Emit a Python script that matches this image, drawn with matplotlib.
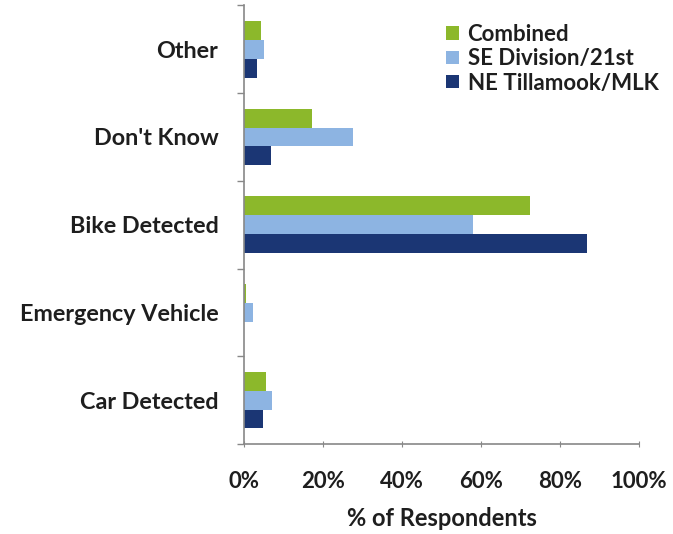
import matplotlib.pyplot as plt
import numpy as np
from matplotlib.ticker import FixedLocator, PercentFormatter

# ----------------------------
# Data (% of respondents)
# ----------------------------
categories = ['Car Detected', 'Emergency Vehicle', 'Bike Detected', "Don't Know", 'Other']
series_names = ['Combined', 'SE Division/21st', 'NE Tillamook/MLK']
combined = [5.5, 0.5, 72.4, 17.1, 4.2]
se_division = [7.0, 2.2, 58.0, 27.5, 5.1]
ne_tillamook = [4.9, 0.0, 86.8, 6.8, 3.4]
xticks = [0, 20, 40, 60, 80, 100]

colors = ['#8cb82b', '#8db4e2', '#1b3674']
text_color = '#1e1e1e'

plt.rcParams['font.family'] = ['Lato', 'DejaVu Sans']

fig = plt.figure(figsize=(6.73, 5.34), dpi=100)
ax = fig.add_axes([0.3626, 0.1685, 0.587, 0.8215])

y = np.arange(len(categories))
h = 0.215
for k, (vals, name, c) in enumerate(zip([combined, se_division, ne_tillamook], series_names, colors)):
    ax.barh(y + (1 - k) * h, vals, height=h, color=c, label=name)

ax.set_xlim(0, 100)
ax.set_ylim(-0.5, len(categories) - 0.5)
ax.set_xticks(xticks)
ax.xaxis.set_major_formatter(PercentFormatter(decimals=0))
ax.set_yticks(y)
ax.set_yticklabels(categories, fontsize=16.8, fontweight='bold', color=text_color)
ax.yaxis.set_minor_locator(FixedLocator(np.arange(-0.5, len(categories), 1.0)))
ax.tick_params(axis='y', which='major', length=0, pad=18.5)
ax.tick_params(axis='y', which='minor', length=5, color='#888888', width=1)
ax.tick_params(axis='x', length=5, direction='inout', color='#888888', labelsize=16, pad=17)
for lab in ax.get_xticklabels():
    lab.set_fontweight('bold')
    lab.set_color(text_color)

for s in ['top', 'right']:
    ax.spines[s].set_visible(False)
ax.spines['left'].set_color('#888888')
ax.spines['bottom'].set_color('#888888')
ax.spines['left'].set_linewidth(1.2)
ax.spines['bottom'].set_linewidth(1.2)

ax.set_xlabel('% of Respondents', fontsize=17, fontweight='bold', color=text_color, labelpad=11)

leg = ax.legend(loc='upper left', bbox_to_anchor=(0.49, 0.978), frameon=False,
                fontsize=16, handlelength=0.55, handleheight=0.55, handletextpad=0.4,
                labelspacing=0.15, borderaxespad=0)
for t in leg.get_texts():
    t.set_fontweight('bold')
    t.set_color(text_color)

fig.savefig('out.png', dpi=100)
